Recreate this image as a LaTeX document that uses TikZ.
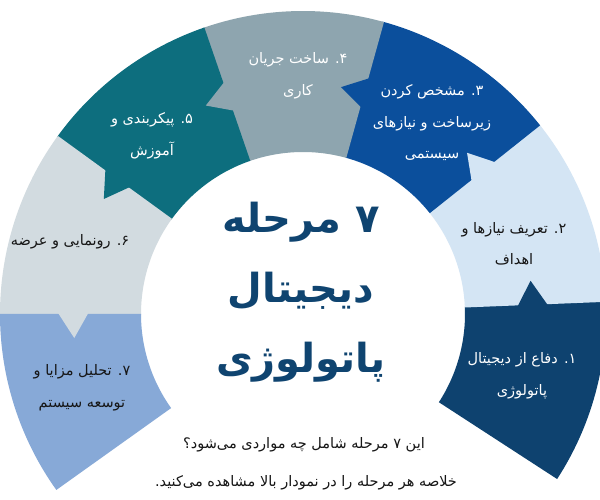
\documentclass[tikz,border=0pt]{standalone}
\usepackage{fontspec}
\TeXXeTstate=1
\newfontfamily\fa[Script=Arabic]{DejaVu Sans}
\usetikzlibrary{calc}
\definecolor{cone}{HTML}{0E426F}
\definecolor{ctwo}{HTML}{D4E5F4}
\definecolor{cthree}{HTML}{0B4F9C}
\definecolor{cfour}{HTML}{8EA5AF}
\definecolor{cfive}{HTML}{0D6E7E}
\definecolor{csix}{HTML}{D2DBE0}
\definecolor{cseven}{HTML}{87A9D7}
\definecolor{ctitle}{HTML}{0F4470}
\definecolor{ctext}{HTML}{161616}
\newcommand\rl[1]{\beginR #1\endR}
\tikzset{
  lbl/.style={font=\fa\fontsize{14.5}{31.5}\selectfont, align=center, inner sep=0pt},
  titletext/.style={font=\fa\bfseries\fontsize{40}{70}\selectfont, align=center, inner sep=0pt, text=ctitle},
  foot/.style={font=\fa\fontsize{14.5}{20}\selectfont, inner sep=0pt, text=ctext}
}
\begin{document}
\begin{tikzpicture}[x=1pt,y=1pt]
\useasboundingbox (0,0) rectangle (600,500);
\fill[white] (0,0) rectangle (600,500);
\coordinate (C) at (303,186);
\def\ri{162}
\def\ro{303}
\def\segfill#1#2#3{\fill[#3] ($(C)+(#1:\ri)$) -- ($(C)+(#1:\ro)$) arc[start angle=#1,end angle=#2,radius=\ro] -- ($(C)+(#2:\ri)$) arc[start angle=#2,end angle=#1,radius=\ri] -- cycle;}
\def\tri#1#2{\fill[#2] ($(C)+(#1-0.6:214)$) -- ($(C)+(#1-0.6:246)$) -- ($(C)+(#1+6:230)$) -- cycle;}
% ring sectors
\segfill{-33}{2.6}{cone}
\segfill{2.3}{38.8}{ctwo}
\segfill{38.5}{74.8}{cthree}
\segfill{74.5}{109.3}{cfour}
\segfill{109}{144.3}{cfive}
\segfill{144}{180.3}{csix}
\segfill{180}{215.5}{cseven}
% arrow notches
\tri{2.3}{cone}
\tri{38.5}{ctwo}
\tri{74.5}{cthree}
\tri{109}{cfour}
\tri{144}{cfive}
\tri{180}{csix}
% labels
\node[lbl, text=white] (l1) at (522,124) {\rl{۱\kern0pt. دفاع از دیجیتال}\\\rl{پاتولوژی}};
\node[lbl, text=ctext] (l2) at (514,256) {\rl{۲\kern0pt. تعریف نیازها و}\\\rl{اهداف}};
\node[lbl, text=white] (l3) at (432,377) {\rl{۳\kern0pt. مشخص کردن}\\\rl{زیرساخت و نیازهای}\\\rl{سیستمی}};
\node[lbl, text=white] (l4) at (298,424) {\rl{۴\kern0pt. ساخت جریان}\\\rl{کاری}};
\node[lbl, text=white] (l5) at (152,364) {\rl{۵\kern0pt. پیکربندی و}\\\rl{آموزش}};
\node[lbl, text=ctext] (l6) at (70,258) {\rl{۶\kern0pt. رونمایی و عرضه}};
\node[lbl, text=ctext] (l7) at (82,112) {\rl{۷\kern0pt. تحلیل مزایا و}\\\rl{توسعه سیستم}};
% title
\node[titletext] (title) at (301,208) {\rl{۷ مرحله}\\\rl{دیجیتال}\\\rl{پاتولوژی}};
% footer
\node[foot] (q1) at (304,55) {\rl{این ۷ مرحله شامل چه مواردی می‌شود؟}};
\node[foot] (q2) at (306,17) {\rl{خلاصه هر مرحله را در نمودار بالا مشاهده می‌کنید.}};
\end{tikzpicture}
\end{document}
